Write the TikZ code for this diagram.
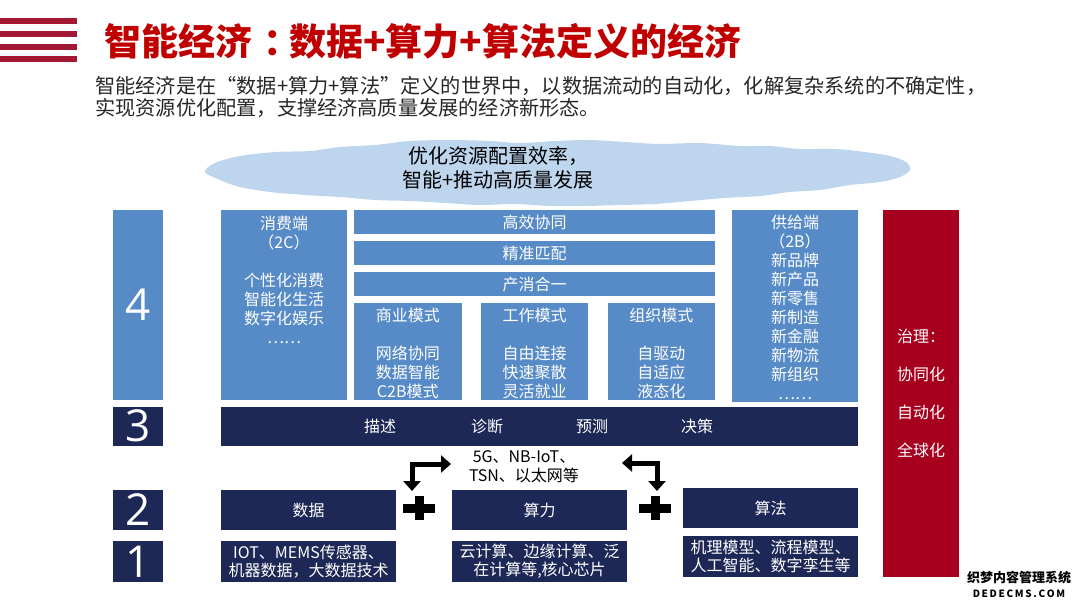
\documentclass[tikz,border=0pt]{standalone}
\usepackage{fontspec}
\setmainfont{Noto Sans CJK SC}
\newfontfamily\numfont{Open Sans}
\usetikzlibrary{positioning,arrows.meta}

\definecolor{stripered}{RGB}{163,22,52}
\definecolor{titlered}{RGB}{192,0,0}
\definecolor{boxblue}{RGB}{87,139,199}
\definecolor{navyblue}{RGB}{29,40,86}
\definecolor{govred}{RGB}{166,0,30}
\definecolor{cloudblue}{RGB}{189,213,237}

\begin{document}
\begin{tikzpicture}[
  x=1pt, y=-1pt,
  font=\fontsize{16}{19}\selectfont,
  % Stili dei blocchi
  bluebox/.style={rectangle, fill=boxblue, text=white, inner sep=0pt, outer sep=0pt, align=center},
  navybox/.style={rectangle, fill=navyblue, text=white, inner sep=0pt, outer sep=0pt, align=center},
  levelbox/.style={navybox, minimum width=50pt, font=\numfont\fontsize{44}{44}\selectfont},
  barbox/.style={bluebox, minimum width=361pt, minimum height=24pt},
  modebox/.style={bluebox, minimum width=107.5pt, minimum height=97pt},
  srcbox/.style={navybox, minimum width=175pt, font=\fontsize{16}{18.5}\selectfont},
  boxtext/.style={text=white, inner sep=0pt, align=center},
  netarrow/.style={line width=5pt, {Triangle[width=17pt,length=10pt]}-{Triangle[width=17pt,length=10pt]}},
  plusbar/.style={line width=9pt}
]
\useasboundingbox (0,0) rectangle (1080,608);

% Titolo
\foreach \yy in {18,31,44,56}
  \fill[stripered] (0,\yy) rectangle (77,{\yy+6});
\node[anchor=west, text=titlered, inner sep=0pt, font=\bfseries\fontsize{37}{37}\selectfont] (title) at (104,41)
  {智能经济\kern0.3em：\kern-0.3em数据+算力+算法定义的经济};
\node[anchor=west, align=left, inner sep=0pt, text=black!85, font=\fontsize{20.2}{21.5}\selectfont] (subtitle) at (95,97)
  {智能经济是在“数据+算力+算法”定义的世界中，以数据流动的自动化，化解复杂系统的不确定性，\\实现资源优化配置，支撑经济高质量发展的经济新形态。};

% Nuvola
\fill[cloudblue] plot[smooth cycle, tension=0.55] coordinates {
  (205,172) (215,163) (240,156) (275,152) (310,151) (340,147) (375,145) (410,141)
  (450,140) (490,141) (520,143) (555,141) (590,140) (625,142) (660,144) (700,143)
  (740,146) (770,146) (800,149) (835,149) (865,152) (890,156) (906,162) (910,170)
  (900,177) (880,182) (850,185) (820,190) (790,192) (760,196) (725,198) (690,201)
  (655,204) (620,205) (585,206) (550,206) (515,204) (480,205) (445,203) (410,201)
  (375,200) (340,197) (305,195) (270,192) (240,187) (220,180)};
\node[align=center, inner sep=0pt, font=\fontsize{20}{24}\selectfont] (goal) at (498,168) {优化资源配置效率，\\智能+推动高质量发展};

% Livelli
\node[levelbox, fill=boxblue, minimum height=190pt] (lvl4) at (138,305) {4};
\node[levelbox, minimum height=39pt] (lvl3) at (138,426) {3};
\node[levelbox, minimum height=40pt] (lvl2) at (138,510) {2};
\node[levelbox, minimum height=41pt] (lvl1) at (138,561.5) {1};

% Livello 4
\node[bluebox, minimum width=126pt, minimum height=190pt] (consumer) at (284,305) {};
\node[boxtext, below=6pt of consumer.north] (consumer_txt)
  {消费端\\（2C）\\ \\个性化消费\\智能化生活\\数字化娱乐\\……};

\node[barbox] (bar_synergy) at (534.5,222) {高效协同};
\node[barbox, below=7pt of bar_synergy] (bar_match) {精准匹配};
\node[barbox, below=7pt of bar_match] (bar_merge) {产消合一};

\node[modebox] (mode_biz) at (407.75,351.5) {};
\node[modebox] (mode_work) at (534.5,351.5) {};
\node[modebox] (mode_org) at (661.25,351.5) {};
\node[boxtext, below=5pt of mode_biz.north] (biz_txt) {商业模式\\ \\网络协同\\数据智能\\C2B模式};
\node[boxtext, below=5pt of mode_work.north] (work_txt) {工作模式\\ \\自由连接\\快速聚散\\灵活就业};
\node[boxtext, below=5pt of mode_org.north] (org_txt) {组织模式\\ \\自驱动\\自适应\\液态化};

\node[bluebox, minimum width=126pt, minimum height=192pt] (supplier) at (795,306) {};
\node[boxtext, below=5pt of supplier.north] (supplier_txt)
  {供给端\\（2B）\\新品牌\\新产品\\新零售\\新制造\\新金融\\新物流\\新组织\\……};

% Governance
\node[rectangle, fill=govred, minimum width=76pt, minimum height=367pt, inner sep=0pt] (governance) at (921,393.5) {};
\node[boxtext, font=\fontsize{16}{38}\selectfont] (gov_txt) at (governance.center) {治理：\\协同化\\自动化\\全球化};

% Livello 3
\node[navybox, minimum width=637pt, minimum height=39pt] (analytics) at (539.5,426) {};
\foreach \txt/\xx [count=\i] in {描述/380, 诊断/487, 预测/592, 决策/697}
  \node[boxtext] (stage\i) at (\xx,426) {\txt};

% Livello 2 e 1
\node[navybox, minimum width=175pt, minimum height=40pt] (data) at (308.5,510) {数据};
\node[navybox, minimum width=175pt, minimum height=40pt] (compute) at (539.5,510) {算力};
\node[navybox, minimum width=175pt, minimum height=40pt] (algo) at (770.5,508) {算法};

\node[srcbox, minimum height=41pt] (data_src) at (308.5,561.5) {IOT、MEMS传感器、\\机器数据，大数据技术};
\node[srcbox, minimum height=41pt] (compute_src) at (539.5,561.5) {云计算、边缘计算、泛\\在计算等,核心芯片};
\node[srcbox, minimum height=41pt] (algo_src) at (770.5,556.5) {机理模型、流程模型、\\人工智能、数字孪生等};

% Rete e frecce
\node[align=center, inner sep=0pt] (network) at (524,467) {5G、NB-IoT、\\TSN、以太网等};

\coordinate (plus_a) at (419,508);
\coordinate (plus_b) at (655,508);
\draw[plusbar] ([xshift=-16pt]plus_a) -- ([xshift=16pt]plus_a);
\draw[plusbar] ([yshift=-12pt]plus_a) -- ([yshift=12pt]plus_a);
\draw[plusbar] ([xshift=-16pt]plus_b) -- ([xshift=16pt]plus_b);
\draw[plusbar] ([yshift=-12pt]plus_b) -- ([yshift=12pt]plus_b);

\coordinate (netl_end) at (451,464);
\coordinate (netl_tip) at (412,491);
\coordinate (netr_end) at (622,463);
\coordinate (netr_tip) at (657,491);
\draw[netarrow] (netl_end) -| (netl_tip);
\draw[netarrow] (netr_end) -| (netr_tip);

% Watermark
\node[inner sep=0pt, font=\bfseries\fontsize{13}{13}\selectfont] (wm_cn) at (1019,578) {织梦内容管理系统};
\node[inner sep=0pt, font=\bfseries\fontsize{10}{10}\selectfont] (wm_en) at (1019,594) {D\,E\,D\,E\,C\,M\,S\,.\,C\,O\,M};

\end{tikzpicture}
\end{document}
